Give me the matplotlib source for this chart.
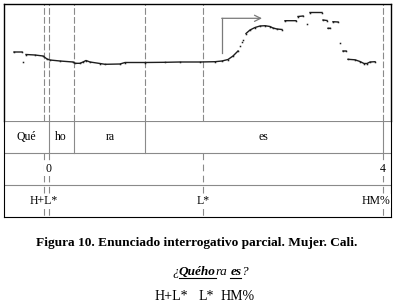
import matplotlib.pyplot as plt
import numpy as np

plt.rcParams['font.family'] = ['Liberation Serif', 'DejaVu Serif']

nan = np.nan

# pitch track: time position along the frame, f0 height in panel units; nan splits the pieces
t = [14, 22, nan, 23, nan,
     26, 35, 43, 47, 50, 60, 73, 75, 80, 83, 86, 90, 100, 105, 120, 125, 145, 165, 180,
     200, 215, 222, 228, 233, 238, nan,
     240, nan, 241.5, nan, 243, nan,
     246, 250, 255, 260, 265, 270, 273, 277, 282, nan,
     285, 296, nan, 298, 303, nan, 307, nan, 310, 322, nan, 323, 327, nan,
     328, 330, nan, 333, 338, nan, 340, nan, 343, 346, nan,
     348, 355, 360, 364, 367, 370, 375]
f0 = [69, 69, nan, 59, nan,
      66.5, 66, 65, 62, 61, 60, 59, 57.7, 57.7, 59, 60.5, 59, 57.5, 56.7, 57, 58.5, 58.5, 58.7, 59,
      59, 59.3, 60, 61.5, 65, 70, nan,
      75, nan, 79, nan, 81, nan,
      87.5, 91, 93.5, 95, 95.3, 94.5, 93, 92, 91.5, nan,
      100.3, 100.3, nan, 104.5, 105, nan, 96.7, nan, 108.5, 108.5, nan, 101, 100.5, nan,
      92.7, 92.7, nan, 99.3, 99, nan, 77.7, nan, 70, 70, nan,
      61.7, 61.2, 59.5, 57.5, 57.5, 59, 59.3]

# tier boundaries and labels
pitch_marks = [44, 49, 74, 145, 203, 383]
syl_bounds = [49, 74, 145, 383]
point_marks = [44, 49, 203, 383]
syllables = ['Qué', 'ho', 'ra', 'es']
syl_pos = [26, 61, 110, 263]
breaks = ['0', '4']
break_pos = [48, 383]
tones = ['H+L*', 'L*', 'HM%']
tone_pos = [44, 203, 376]

caption = 'Figura 10. Enunciado interrogativo parcial. Mujer. Cali.'

W, H = 395, 308
fig = plt.figure(figsize=(W / 100, H / 100), dpi=100)

grey = '#8a8a8a'

# pitch panel
ax = fig.add_axes([4 / W, (H - 121) / H, 387 / W, 117 / H])
ax.set_xlim(4, 391)
ax.set_ylim(0, 117)
for x in pitch_marks:
    ax.axvline(x, color=grey, lw=0.8, ls=(0, (6, 2)))
ax.plot(t, f0, color='#1e1e1e', lw=1.0, marker='s', ms=1.1, mew=0)
ax.plot([221.7, 221.7], [68, 102.7], color='#7a7a7a', lw=0.9)
ax.annotate('', xy=(262, 102.7), xytext=(221.7, 102.7),
            arrowprops=dict(arrowstyle='->', color='#7a7a7a', lw=0.9,
                            shrinkA=0, shrinkB=0, mutation_scale=11))
ax.set_xticks([])
ax.set_yticks([])
ax.spines['bottom'].set_visible(False)
for s in ['top', 'left', 'right']:
    ax.spines[s].set_linewidth(1.0)

# tiers
tx = fig.add_axes([4 / W, (H - 217) / H, 387 / W, 96 / H])
tx.patch.set_visible(False)
tx.set_xlim(4, 391)
tx.set_ylim(3, 0)
tx.set_xticks([])
tx.set_yticks([])
tx.spines['top'].set_visible(False)
for yy in [0, 1, 2]:
    tx.axhline(yy, color=grey, lw=0.8)
for x in syl_bounds:
    tx.plot([x, x], [0, 1], color=grey, lw=0.8)
for x in point_marks:
    tx.plot([x, x], [1, 3], color=grey, lw=0.8, ls=(0, (6, 4)))
wb = dict(facecolor='white', edgecolor='none', pad=0.5)
for s, x in zip(syllables, syl_pos):
    tx.text(x, 0.5, s, ha='center', va='center', fontsize=8.5)
for s, x in zip(breaks, break_pos):
    tx.text(x, 1.5, s, ha='center', va='center', fontsize=8.5, bbox=wb, zorder=3)
for s, x in zip(tones, tone_pos):
    tx.text(x, 2.5, s, ha='center', va='center', fontsize=8.5, bbox=wb, zorder=3)

# caption area in pixel coordinates
cx = fig.add_axes([0, 0, 1, 1])
cx.patch.set_visible(False)
cx.set_xlim(0, W)
cx.set_ylim(H, 0)
cx.axis('off')
cx.text(197, 243, caption, ha='center', va='center', fontsize=9.6, weight='bold')

r = fig.canvas.get_renderer()
pieces = [('¿', 'normal', False), ('Quého', 'bold', True), ('ra', 'normal', False),
          (' ', 'normal', False), ('es', 'bold', True), ('?', 'normal', False)]
x = 172
for s, w, u in pieces:
    tt = cx.text(x, 275, s, ha='left', va='baseline', fontsize=9.5, style='italic', weight=w)
    wd = tt.get_window_extent(r).width
    if s == ' ':
        wd = 3
    if u:
        cx.plot([x, x + wd], [277.5, 277.5], color='black', lw=0.8)
    x += wd

for s, x in zip(tones, [155, 199, 221]):
    cx.text(x, 300, s, ha='left', va='baseline', fontsize=10)

fig.savefig('out.png', dpi=100)
